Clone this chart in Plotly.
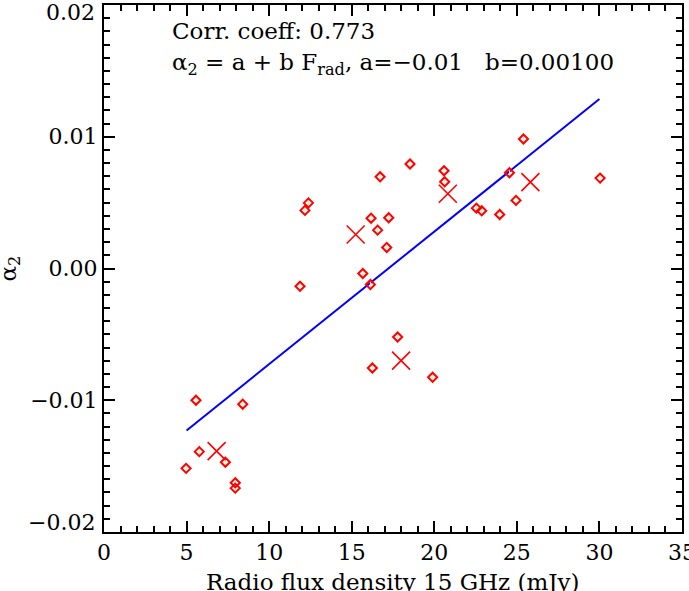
import plotly.graph_objects as go

# Diamond points (radio flux density, alpha_2)
flux = [4.97, 5.57, 5.77, 7.35, 7.95, 7.95, 8.40, 11.87, 12.17, 12.38,
        15.67, 16.13, 16.17, 16.25, 16.57, 16.72, 17.12, 17.24, 17.78, 18.53,
        19.90, 20.59, 20.63, 22.55, 22.87, 23.96, 24.55, 24.95, 25.40, 30.04]
alpha2 = [-0.01517, -0.01000, -0.01390, -0.01470, -0.01626, -0.01667, -0.01030,
          -0.00135, 0.00441, 0.00498, -0.00038, -0.00122, 0.00382, -0.00755,
          0.00291, 0.00696, 0.00160, 0.00385, -0.00520, 0.00793, -0.00826,
          0.00742, 0.00658, 0.00458, 0.00438, 0.00410, 0.00727, 0.00517,
          0.00983, 0.00686]
alpha2_err = [0.0004, 0.0005, 0.0005, 0.0004, 0.0005, 0.0005, 0.0006, 0.0004,
              0.0004, 0.0005, 0.0005, 0.0005, 0.0006, 0.0005, 0.0005, 0.0006,
              0.0004, 0.0005, 0.0005, 0.0005, 0.0005, 0.0005, 0.0005, 0.0004,
              0.0004, 0.0005, 0.0005, 0.0005, 0.0005, 0.0005]

# Cross points (binned means)
bin_flux = [6.82, 15.24, 17.99, 20.82, 25.82]
bin_alpha2 = [-0.01386, 0.00258, -0.00699, 0.00567, 0.00656]

# Fit line
fit_x = [5.0, 30.0]
fit_y = [-0.01229, 0.01286]

x_ticks = [0, 5, 10, 15, 20, 25, 30, 35]
y_ticks = [-0.02, -0.01, 0.0, 0.01, 0.02]
y_tick_labels = ["", "−0.01", "0.00", "0.01", ""]
# extreme y labels are drawn as annotations (placed inside the frame span)
y_edge_vals = [-0.02, 0.02]
y_edge_labels = ["−0.02", "0.02"]

x_title = "Radio flux density 15 GHz (mJy)"
y_title = "α<sub>2</sub>"
corr_text = "Corr. coeff: 0.773"
fit_text = ("α<sub>2</sub> = a + b F<sub>rad</sub>, a=−0.01\u00a0\u00a0\u00a0b=0.00100")

FONT = "DejaVu Serif"

fig = go.Figure()
fig.add_trace(go.Scatter(
    x=fit_x, y=fit_y, mode="lines",
    line=dict(color="#0000ff", width=2), showlegend=False, hoverinfo="skip"))
fig.add_trace(go.Scatter(
    x=flux, y=alpha2, mode="markers",
    marker=dict(symbol="diamond-open", size=7, color="#ff0000",
                line=dict(width=2, color="#ff0000")),
    error_y=dict(type="data", array=alpha2_err, color="#ffe4a8",
                 thickness=1, width=0),
    showlegend=False))
fig.add_trace(go.Scatter(
    x=bin_flux, y=bin_alpha2, mode="markers",
    marker=dict(symbol="x-thin", size=18, color="#ff0000",
                line=dict(width=1.6, color="#ff0000")),
    showlegend=False))

fig.add_annotation(x=4.0, y=0.01803, xref="x", yref="y", text=corr_text,
                   showarrow=False, xanchor="left", yanchor="middle",
                   font=dict(family=FONT, size=23, color="black"))
fig.add_annotation(x=4.0, y=0.01552, xref="x", yref="y", text=fit_text,
                   showarrow=False, xanchor="left", yanchor="middle",
                   font=dict(family=FONT, size=23, color="black"))

for val, lab, shift in zip(y_edge_vals, y_edge_labels, [10, -7]):
    fig.add_annotation(x=0, y=val, xref="x", yref="y", text=lab,
                       showarrow=False, xanchor="right", yanchor="middle",
                       xshift=-7, yshift=shift,
                       font=dict(family=FONT, size=22, color="black"))

# axis titles
fig.add_annotation(x=0.5, y=0, xref="paper", yref="paper", text=x_title,
                   showarrow=False, xanchor="center", yanchor="middle",
                   yshift=-50, font=dict(family=FONT, size=23, color="black"))
fig.add_annotation(x=0, y=0.5, xref="paper", yref="paper", text=y_title,
                   showarrow=False, xanchor="center", yanchor="middle",
                   textangle=-90, xshift=-95,
                   font=dict(family=FONT, size=23, color="black"))

axis_common = dict(
    showline=True, linecolor="black", linewidth=2, mirror="ticks",
    ticks="inside", ticklen=11, tickwidth=2, tickcolor="black",
    showgrid=False, zeroline=False, automargin=False,
    ticklabeloverflow="allow",
    tickfont=dict(family=FONT, size=22, color="black"),
)

fig.update_xaxes(
    range=[0, 35], tickvals=x_ticks, ticktext=[str(v) for v in x_ticks],
    minor=dict(dtick=1, ticks="inside", ticklen=6, tickwidth=2,
               tickcolor="black"),
    ticklabelstandoff=0,
    **axis_common)
fig.update_yaxes(
    range=[-0.02, 0.02], tickvals=y_ticks, ticktext=y_tick_labels,
    minor=dict(dtick=0.001, ticks="inside", ticklen=6, tickwidth=2,
               tickcolor="black"),
    ticklabelstandoff=0,
    **axis_common)

fig.update_layout(
    width=689, height=591,
    margin=dict(l=104, r=7, t=5, b=59),
    paper_bgcolor="white", plot_bgcolor="white",
)

fig.write_html("out.html", config={"displayModeBar": False},
               post_script="document.body.style.margin='0';")
